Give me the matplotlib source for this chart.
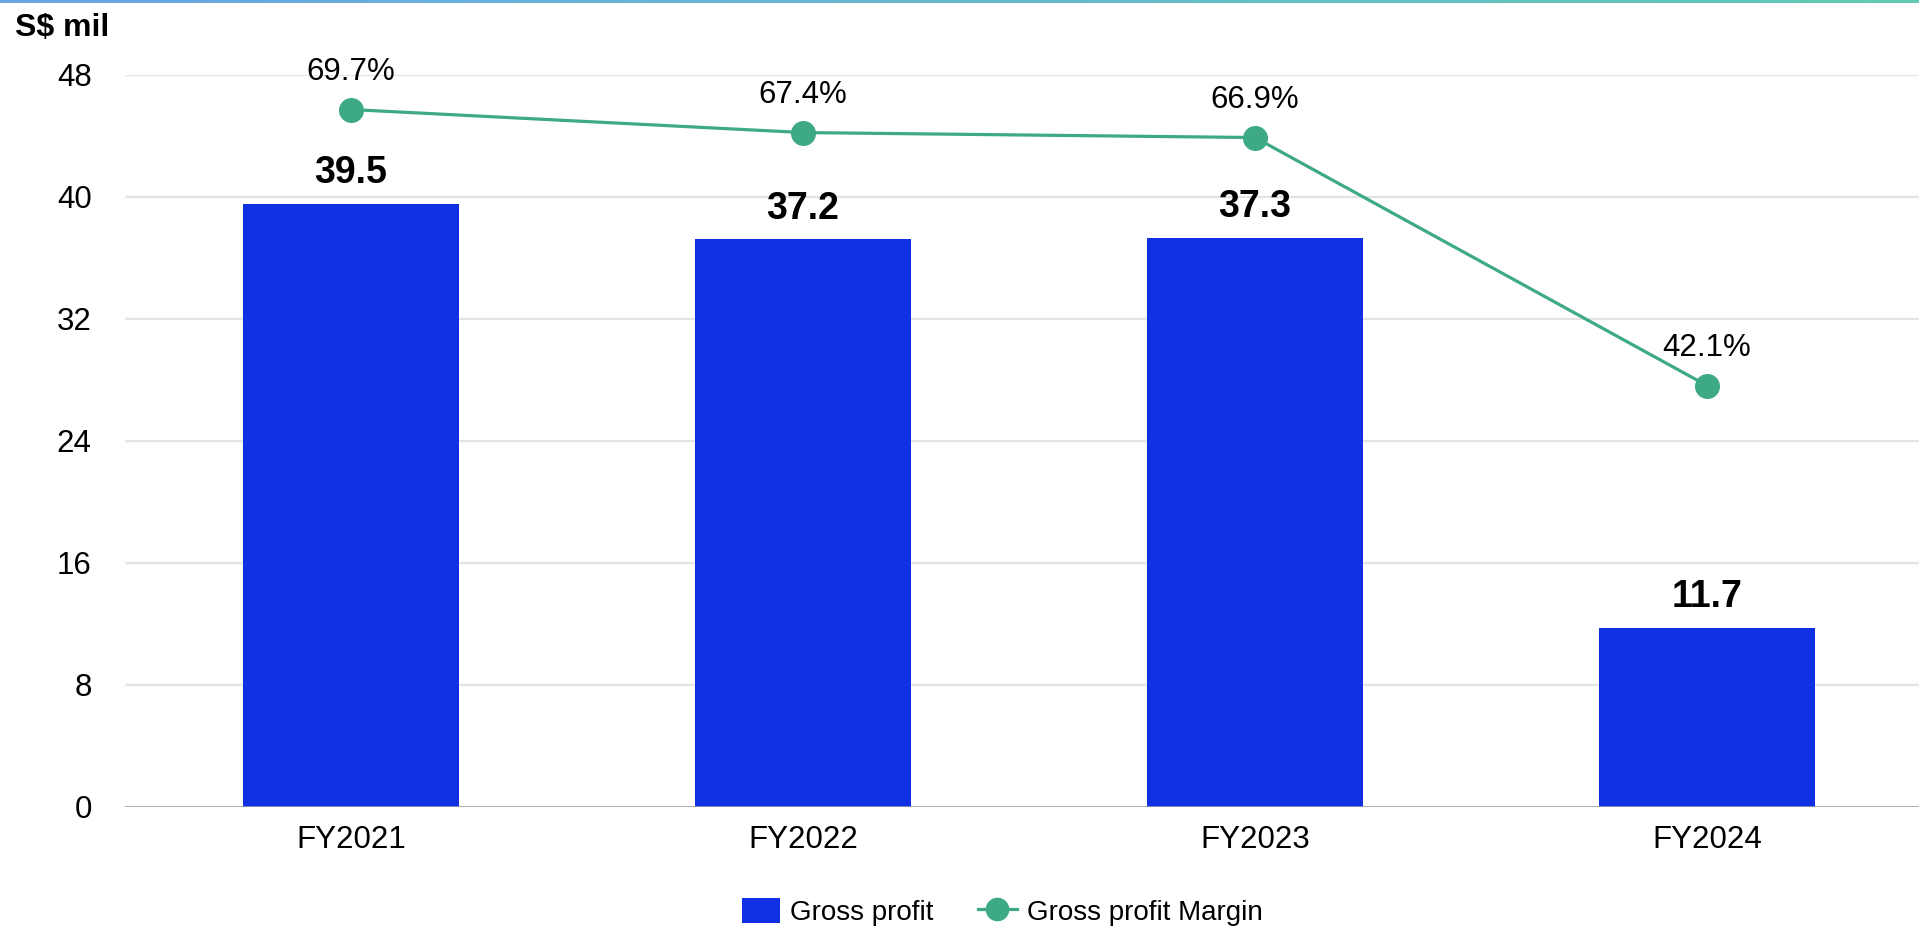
import matplotlib
matplotlib.use("Agg")
import matplotlib.pyplot as plt
import numpy as np
from matplotlib.patches import Patch
from matplotlib.lines import Line2D
from matplotlib.colors import LinearSegmentedColormap

categories = ["FY2021", "FY2022", "FY2023", "FY2024"]
gross_profit = [39.5, 37.2, 37.3, 11.7]
gross_margin = [69.7, 67.4, 66.9, 42.1]
y_ticks = [0, 8, 16, 24, 32, 40, 48]

BAR_COLOR = "#1030E3"
LINE_COLOR = "#3DAA84"
FONT = "Liberation Sans"
plt.rcParams["font.family"] = [FONT, "DejaVu Sans"]

W, H = 1919, 927
fig = plt.figure(figsize=(W / 100, H / 100), dpi=100)

left_px, right_px = 125, 1919
top_px, bottom_px = 74.7, 806.6
ax = fig.add_axes([left_px / W, 1 - bottom_px / H, (right_px - left_px) / W, (bottom_px - top_px) / H])

x = np.arange(len(categories))
bars = ax.bar(x, gross_profit, width=0.48, color=BAR_COLOR, zorder=2)
ax.set_ylim(0, 48)
ax.set_xlim(-0.5, (right_px - left_px) / 452 - 0.5)
ax.set_yticks(y_ticks)
ax.set_yticklabels([str(t) for t in y_ticks], fontsize=22.5)
ax.set_xticks(x)
ax.set_xticklabels(categories, fontsize=22.5)
ax.tick_params(axis="both", length=0)
ax.tick_params(axis="y", pad=24)
ax.tick_params(axis="x", pad=13)
ax.yaxis.grid(True, color="#e3e3e3", linewidth=1.6, zorder=0)
ax.set_axisbelow(True)
for s in ["top", "right", "left", "bottom"]:
    ax.spines[s].set_visible(False)
ax.axhline(0, color="#a0a0a0", linewidth=1.8, zorder=5)

for xi, v in zip(x, gross_profit):
    ax.annotate(f"{v:.1f}", (xi, v), xytext=(0, 15), textcoords="offset points",
                ha="center", va="baseline", fontsize=27, fontweight="bold", color="black")

ax2 = ax.twinx()
ax2.set_ylim(0, 69.7 * 1.05)
ax2.set_axis_off()
ax2.plot(x, gross_margin, color=LINE_COLOR, linewidth=2.3, marker="o",
         markersize=17, zorder=6)
for xi, v in zip(x, gross_margin):
    ax2.annotate(f"{v:.1f}%", (xi, v), xytext=(0, 21), textcoords="offset points",
                 ha="center", va="baseline", fontsize=22.5, color="black")
ax2.set_xlim(ax.get_xlim())

fig.text(15 / W, 1 - 36 / H, "S$ mil", fontsize=23, fontweight="bold",
         ha="left", va="baseline")

handles = [Patch(facecolor=BAR_COLOR, edgecolor="none"),
           Line2D([0], [0], color=LINE_COLOR, linewidth=2.3, marker="o", markersize=16)]
fig.legend(handles, ["Gross profit", "Gross profit Margin"], loc="center",
           bbox_to_anchor=(1002 / W, 1 - 912 / H), ncol=2, frameon=False,
           fontsize=20, handlelength=1.4, handleheight=1.0, handletextpad=0.35,
           columnspacing=1.6)

# top gradient strip
gax = fig.add_axes([0, 1 - 3 / H, 1, 3 / H])
cmap = LinearSegmentedColormap.from_list("g", ["#6aa6e6", "#62cbb4"])
gax.imshow(np.linspace(0, 1, 256)[None, :], aspect="auto", cmap=cmap)
gax.set_axis_off()

fig.savefig("out.png", dpi=100)
